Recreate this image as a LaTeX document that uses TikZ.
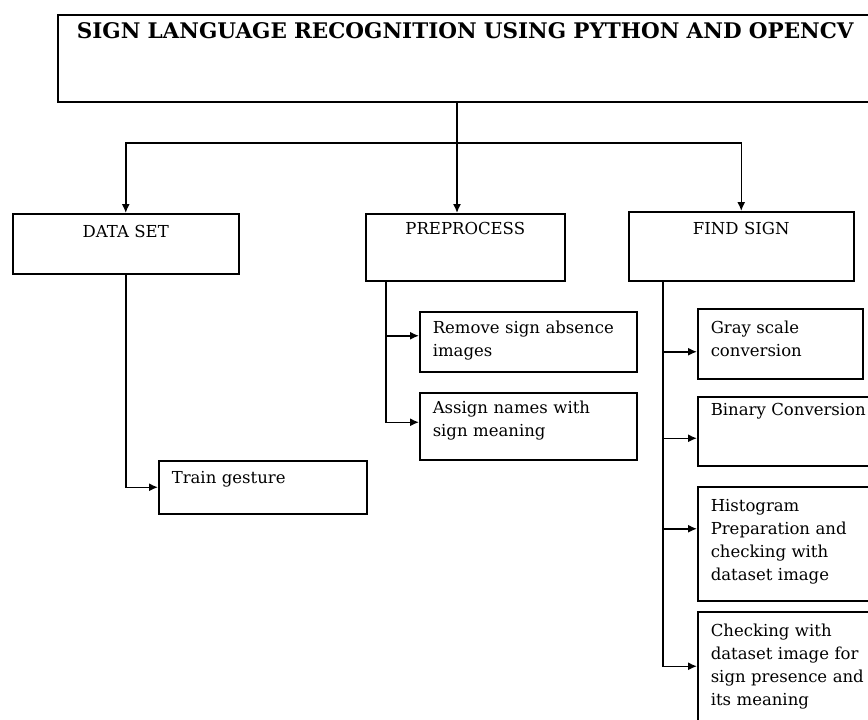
\documentclass[tikz,border=0pt]{standalone}
\usepackage{fontspec}
\setmainfont{DejaVu Serif}
\usetikzlibrary{arrows.meta,positioning}

\tikzset{
  box/.style={draw, line width=1.5pt, rectangle, anchor=north west, inner sep=0pt,
    text height=22pt, font=\fontsize{16.5}{23}\selectfont},
  headbox/.style={box, align=center},
  stepbox/.style={box, align=left, inner xsep=13pt},
  link/.style={draw, line width=1.5pt},
  arrowlink/.style={link, -{Latex[length=9pt,width=8pt]}},
}

\begin{document}
\begin{tikzpicture}[x=1pt, y=-1pt]
    \useasboundingbox (0,0) rectangle (868,720);

    % Title
    \node[headbox, text width=815pt, text height=24pt, text depth=63pt,
      font=\fontsize{21.5}{26}\selectfont\bfseries] (title) at (57,14)
      {SIGN LANGUAGE RECOGNITION USING PYTHON AND OPENCV};

    % Main stages
    \node[headbox, text width=226pt, text height=24pt, text depth=36pt] (data) at (12,213) {DATA SET};
    \node[headbox, text width=199pt, text height=21pt, text depth=46pt] (prep) at (365,213) {PREPROCESS};
    \node[headbox, text width=225pt, text height=23pt, text depth=46pt] (find) at (628,211) {FIND SIGN};

    % Data set steps
    \node[stepbox, text width=182pt, text height=23pt, text depth=30pt] (train) at (158,460) {Train gesture};

    % Preprocess steps
    \node[stepbox, text width=191pt, text depth=38pt] (remove) at (419,311) {Remove sign absence\\images};
    \node[stepbox, text width=191pt, text height=21pt, text depth=46pt] (assign) at (419,392) {Assign names with\\sign meaning};

    % Find sign steps
    \node[stepbox, text width=139pt, text height=25pt, text depth=45pt] (gray) at (697,308) {Gray scale\\conversion};
    \node[stepbox, text width=170pt, text height=19pt, text depth=50pt] (binary) at (697,396) {Binary Conversion};
    \node[stepbox, text width=170pt, text height=25pt, text depth=89pt] (histo) at (697,486)
      {Histogram\\Preparation and\\checking with\\dataset image};
    \node[stepbox, text width=170pt, text height=25pt, text depth=130pt] (check) at (697,611)
      {Checking with\\dataset image for\\sign presence and\\its meaning};

    % Split from title
    \coordinate (split) at (457,143);
    \draw[link] (split |- title.south) -- (split);
    \draw[arrowlink] (split) -| (data.north);
    \draw[arrowlink] (split) -- (split |- prep.north);
    \draw[arrowlink] (split) -| (find.north);

    % Branches
    \draw[arrowlink] (data.south) |- (train.west);

    \coordinate[right=21pt of prep.south west] (pbus);
    \draw[arrowlink] (pbus) |- ([yshift=6pt]remove.west);
    \draw[arrowlink] (pbus) |- ([yshift=4pt]assign.west);

    \coordinate[right=35pt of find.south west] (fbus);
    \draw[arrowlink] (fbus) |- ([yshift=-8pt]gray.west);
    \draw[arrowlink] (fbus) |- ([yshift=-7pt]binary.west);
    \draw[arrowlink] (fbus) |- ([yshift=15pt]histo.west);
    \draw[arrowlink] (fbus) |- ([yshift=23pt]check.west);
\end{tikzpicture}
\end{document}
